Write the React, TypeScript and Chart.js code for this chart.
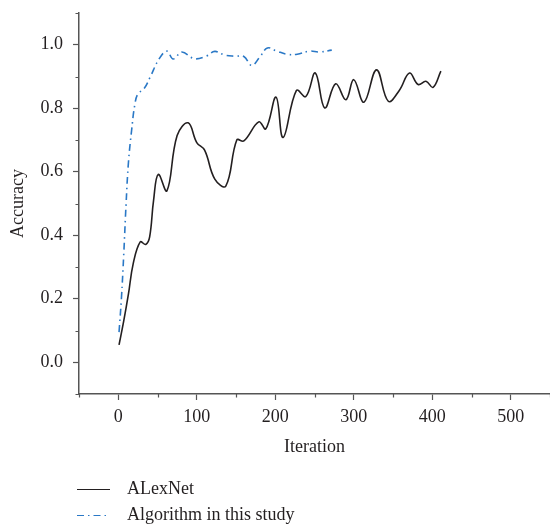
import React, { useEffect, useRef } from "react";
import { Chart, registerables } from "chart.js";

Chart.register(...registerables);

// ---- data ----
const SERIES_LABELS = ["ALexNet", "Algorithm in this study"];

const ALEXNET_X = [1, 7, 13, 19, 28, 35, 40, 45, 51, 62, 75, 89, 100, 110, 123, 137, 151, 160, 179, 188, 201, 210, 227, 239, 251, 263, 277, 290, 300, 313, 329, 344, 358, 371, 382, 392, 401, 411];
const ALEXNET_Y = [0.055, 0.13, 0.215, 0.31, 0.379, 0.371, 0.395, 0.51, 0.592, 0.54, 0.714, 0.754, 0.692, 0.668, 0.577, 0.555, 0.7, 0.697, 0.757, 0.735, 0.835, 0.708, 0.856, 0.837, 0.911, 0.801, 0.877, 0.827, 0.89, 0.819, 0.921, 0.822, 0.856, 0.911, 0.875, 0.885, 0.866, 0.917];

const OURS_X = [1, 4, 7, 10, 13, 17, 21, 25, 33, 41, 52, 62, 70, 81, 97, 112, 123, 136, 149, 160, 170, 180, 190, 202, 215, 228, 244, 256, 272];
const OURS_Y = [0.095, 0.2, 0.34, 0.5, 0.63, 0.73, 0.81, 0.845, 0.862, 0.9, 0.955, 0.98, 0.955, 0.977, 0.956, 0.964, 0.979, 0.967, 0.964, 0.963, 0.935, 0.96, 0.99, 0.98, 0.97, 0.97, 0.98, 0.977, 0.983];

const X_MAJOR = [0, 100, 200, 300, 400, 500];
const X_MINOR = [-50, 50, 150, 250, 350, 450, 550];
const Y_MAJOR = [0, 0.2, 0.4, 0.6, 0.8, 1.0];
const Y_MINOR = [-0.1, 0.1, 0.3, 0.5, 0.7, 0.9, 1.1];
const X_RANGE = [-50, 550];
const Y_RANGE = [-0.1, 1.1];
const X_TITLE = "Iteration";
const Y_TITLE = "Accuracy";

// ---- styles ----
const FONT_FAMILY = "'Liberation Serif', 'Times New Roman', serif";
const TEXT_COLOR = "#231f20";
const AXIS_COLOR = "#555555";
const BLACK_LINE = "#231f20";
const BLUE_LINE = "#2a78c6";
const BLUE_DASH = [7, 4, 1.5, 4];

const minorTicks = {
  id: "minorTicks",
  afterDraw(chart: any) {
    const ctx = chart.ctx;
    const xs = chart.scales.x;
    const ys = chart.scales.y;
    ctx.save();
    ctx.strokeStyle = AXIS_COLOR;
    ctx.lineWidth = 1.2;
    ctx.beginPath();
    X_MINOR.forEach((v) => {
      const p = Math.round(xs.getPixelForValue(v)) + 0.5;
      ctx.moveTo(p, xs.top);
      ctx.lineTo(p, xs.top + 3.5);
    });
    Y_MINOR.forEach((v) => {
      const p = Math.round(ys.getPixelForValue(v)) + 0.5;
      ctx.moveTo(ys.right, p);
      ctx.lineTo(ys.right - 3.5, p);
    });
    ctx.stroke();
    ctx.restore();
  },
};

const customLegend = {
  id: "customLegend",
  afterDraw(chart: any) {
    const ctx = chart.ctx;
    const lineX0 = 77;
    const lineX1 = 110;
    const textX = 127;
    const rowY0 = 489;
    const rowGap = 26;
    ctx.save();
    ctx.font = `18px ${FONT_FAMILY}`;
    ctx.textBaseline = "middle";
    ctx.textAlign = "left";
    chart.data.datasets.forEach((ds: any, i: number) => {
      const y = Math.round(rowY0 + i * rowGap) + 0.5;
      ctx.strokeStyle = ds.borderColor;
      ctx.lineWidth = 1.2;
      ctx.setLineDash(ds.borderDash || []);
      ctx.beginPath();
      ctx.moveTo(lineX0, y);
      ctx.lineTo(lineX1, y);
      ctx.stroke();
      ctx.setLineDash([]);
      ctx.fillStyle = TEXT_COLOR;
      ctx.fillText(ds.label, textX, y);
    });
    ctx.restore();
  },
};

export default function App() {
  const canvasRef = useRef<HTMLCanvasElement | null>(null);

  useEffect(() => {
    const canvas = canvasRef.current;
    if (!canvas) return;
    const chart = new Chart(canvas, {
      type: "line",
      data: {
        datasets: [
          {
            label: SERIES_LABELS[0],
            data: ALEXNET_X.map((x, i) => ({ x, y: ALEXNET_Y[i] })),
            borderColor: BLACK_LINE,
            borderWidth: 1.6,
            pointRadius: 0,
            tension: 0.4,
            fill: false,
          },
          {
            label: SERIES_LABELS[1],
            data: OURS_X.map((x, i) => ({ x, y: OURS_Y[i] })),
            borderColor: BLUE_LINE,
            borderWidth: 1.6,
            borderDash: BLUE_DASH,
            pointRadius: 0,
            tension: 0.4,
            fill: false,
          },
        ],
      },
      options: {
        animation: false,
        responsive: false,
        maintainAspectRatio: false,
        devicePixelRatio: 1,
        layout: { padding: { left: 0, right: 0, top: 13, bottom: 72 } },
        plugins: {
          legend: { display: false },
          tooltip: { enabled: false },
        },
        scales: {
          x: {
            type: "linear",
            min: X_RANGE[0],
            max: X_RANGE[1],
            afterBuildTicks: (scale: any) => {
              scale.ticks = X_MAJOR.map((v) => ({ value: v }));
            },
            afterFit: (scale: any) => {
              scale.height = 64;
              scale.paddingLeft = 0;
              scale.paddingRight = 0;
            },
            ticks: {
              autoSkip: false,
              maxRotation: 0,
              padding: 6,
              color: TEXT_COLOR,
              font: { family: FONT_FAMILY, size: 18 },
              callback: (v: any) => String(v),
            },
            grid: {
              display: true,
              drawOnChartArea: false,
              drawTicks: true,
              tickLength: 6,
              tickColor: AXIS_COLOR,
              tickWidth: 1.2,
            },
            border: { display: true, color: AXIS_COLOR, width: 1.5 },
            title: {
              display: true,
              text: X_TITLE,
              color: TEXT_COLOR,
              font: { family: FONT_FAMILY, size: 18 },
              padding: { top: 0, bottom: 0 },
            },
          },
          y: {
            type: "linear",
            min: Y_RANGE[0],
            max: Y_RANGE[1],
            afterBuildTicks: (scale: any) => {
              scale.ticks = Y_MAJOR.map((v) => ({ value: v }));
            },
            afterFit: (scale: any) => {
              scale.width = 79;
              scale.paddingTop = 0;
              scale.paddingBottom = 0;
            },
            ticks: {
              autoSkip: false,
              padding: 10,
              color: TEXT_COLOR,
              font: { family: FONT_FAMILY, size: 18 },
              callback: (v: any) => Number(v).toFixed(1),
            },
            grid: {
              display: true,
              drawOnChartArea: false,
              drawTicks: true,
              tickLength: 6,
              tickColor: AXIS_COLOR,
              tickWidth: 1.2,
            },
            border: { display: true, color: AXIS_COLOR, width: 1.5 },
            title: {
              display: true,
              text: Y_TITLE,
              color: TEXT_COLOR,
              font: { family: FONT_FAMILY, size: 18 },
              padding: { top: 7, bottom: 0 },
            },
          },
        },
      },
      plugins: [minorTicks, customLegend],
    });
    return () => chart.destroy();
  }, []);

  return (
    <div style={{ position: "absolute", left: 0, top: 0, width: 550, height: 530, background: "#fff" }}>
      <canvas ref={canvasRef} width={550} height={530} style={{ display: "block", width: 550, height: 530 }} />
    </div>
  );
}
